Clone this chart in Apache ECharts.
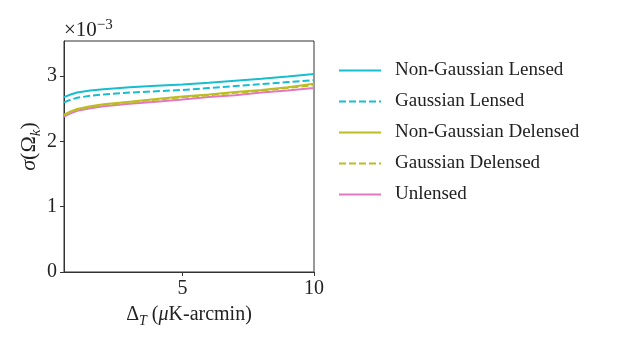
<!DOCTYPE html>
<html><head><meta charset="utf-8">
<script src="https://cdn.jsdelivr.net/npm/echarts@6/dist/echarts.min.js"></script>
<style>html,body{margin:0;padding:0;background:#fff}#c{width:623px;height:346px}</style>
</head><body><div id="c"></div>
<script>
// x: noise level Delta_T (muK-arcmin); y: sigma(Omega_k) in units of 1e-3
const xValues = [0.5, 0.75, 1, 1.5, 2, 3, 4, 5, 6, 7, 8, 9, 10];
const nonGaussLensed   = [2.68, 2.72, 2.75, 2.78, 2.80, 2.83, 2.855, 2.875, 2.90, 2.93, 2.96, 2.995, 3.035];
const gaussLensed      = [2.60, 2.64, 2.67, 2.70, 2.72, 2.75, 2.77, 2.79, 2.82, 2.85, 2.88, 2.91, 2.94];
const nonGaussDelensed = [2.41, 2.46, 2.50, 2.54, 2.57, 2.61, 2.65, 2.69, 2.72, 2.76, 2.79, 2.83, 2.885];
const gaussDelensed    = [2.40, 2.45, 2.49, 2.53, 2.56, 2.60, 2.64, 2.68, 2.71, 2.745, 2.78, 2.82, 2.865];
const unlensed         = [2.38, 2.43, 2.47, 2.51, 2.54, 2.58, 2.61, 2.645, 2.68, 2.71, 2.75, 2.78, 2.82];
const seriesNames = ['Non-Gaussian Lensed', 'Gaussian Lensed', 'Non-Gaussian Delensed', 'Gaussian Delensed', 'Unlensed'];
const xTicks = [5, 10];
const yTicks = [0, 1, 2, 3];

const FONT = 'Liberation Serif';
const FS = 20;
const pair = arr => xValues.map((x, i) => [x, arr[i]]);
function mk(name, arr, color, dashed, z) {
  return {
    name, type: 'line', data: pair(arr), symbol: 'none', showSymbol: false, smooth: false, z: z,
    lineStyle: { color, width: 2, type: dashed ? [7, 3] : 'solid' },
    itemStyle: { color }
  };
}
const chart = echarts.init(document.getElementById('c'), null, { renderer: 'canvas' });
chart.setOption({
  animation: false,
  backgroundColor: '#fff',
  grid: { left: 64, right: 309, top: 41, bottom: 74, show: true, borderColor: '#333', borderWidth: 1, backgroundColor: 'transparent' },
  xAxis: {
    type: 'value', min: 0.5, max: 10,
    splitLine: { show: false },
    axisLine: { show: true, lineStyle: { color: '#333', width: 1 } },
    axisTick: { show: true, length: 4, inside: false, customValues: xTicks, lineStyle: { color: '#333' } },
    axisLabel: { customValues: xTicks, fontFamily: FONT, fontSize: FS, color: '#222', margin: 7 },
    name: '{a|Δ}{s|T}{a| (}{i|μ}{a|K-arcmin)}', nameLocation: 'middle', nameGap: 30,
    nameTextStyle: { rich: {
      a: { fontFamily: FONT, fontSize: FS, color: '#222' },
      i: { fontFamily: FONT, fontStyle: 'italic', fontSize: FS, color: '#222' },
      s: { fontFamily: FONT, fontStyle: 'italic', fontSize: 14, color: '#222', verticalAlign: 'bottom', padding: [12, 0, 0, 0] }
    } }
  },
  yAxis: {
    type: 'value', min: 0, max: 3.54,
    splitLine: { show: false },
    axisLine: { show: true, lineStyle: { color: '#333', width: 1 } },
    axisTick: { show: true, length: 4, customValues: yTicks, lineStyle: { color: '#333' } },
    axisLabel: { customValues: yTicks, fontFamily: FONT, fontSize: FS, color: '#222', margin: 7 },
    name: '{i|σ}{a|(Ω}{s|k}{a|)}', nameLocation: 'middle', nameGap: 15, nameRotate: 90,
    nameTextStyle: { padding: [0, 0, 0, 20], rich: {
      a: { fontFamily: FONT, fontSize: 22, color: '#222' },
      i: { fontFamily: FONT, fontStyle: 'italic', fontSize: 22, color: '#222' },
      s: { fontFamily: FONT, fontStyle: 'italic', fontSize: 15, color: '#222', verticalAlign: 'bottom', padding: [12, 0, 0, 0] }
    } }
  },
  legend: {
    orient: 'vertical', left: 333, top: 56, itemWidth: 42, itemHeight: 14, itemGap: 12,
    data: seriesNames,
    itemStyle: { opacity: 0, borderWidth: 0 },
    textStyle: { fontFamily: FONT, fontSize: 19, color: '#222', padding: [0, 0, 0, 9] }
  },
  graphic: [{
    type: 'text', left: 64, top: 18,
    style: { text: '{a|×10}{s|−3}', rich: {
      a: { fontFamily: FONT, fontSize: 21, fill: '#222' },
      s: { fontFamily: FONT, fontSize: 15, fill: '#222', verticalAlign: 'top', padding: [0, 0, 9, 0] }
    } }
  }],
  series: [
    mk(seriesNames[4], unlensed, '#e377c2', false, 1),
    mk(seriesNames[3], gaussDelensed, '#bcbd22', true, 2),
    mk(seriesNames[2], nonGaussDelensed, '#bcbd22', false, 3),
    mk(seriesNames[1], gaussLensed, '#17becf', true, 4),
    mk(seriesNames[0], nonGaussLensed, '#17becf', false, 5)
  ]
});
</script></body></html>
